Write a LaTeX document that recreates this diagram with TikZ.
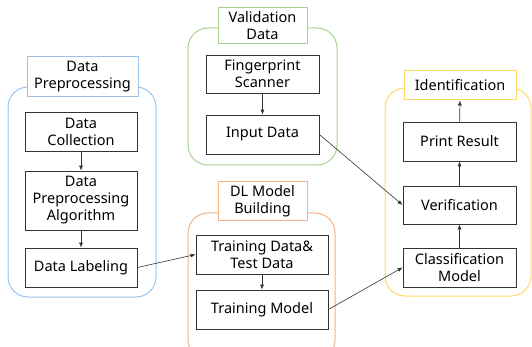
\documentclass[tikz,border=0pt]{standalone}
\usepackage{fontspec}
\usetikzlibrary{arrows.meta}
\setmainfont{Noto Sans}
\definecolor{gblue}{RGB}{155,194,230}
\definecolor{ggreen}{RGB}{169,209,142}
\definecolor{gorange}{RGB}{244,177,131}
\definecolor{gyellow}{RGB}{255,217,102}
\begin{document}
\begin{tikzpicture}[x=1pt,y=-1pt,
  grp/.style={draw=#1, line width=1pt, rounded corners=20pt},
  ttl/.style={draw=#1, line width=1pt, fill=white, align=center, inner sep=0pt, font=\fontsize{14.5}{17}\selectfont},
  bx/.style={draw=black!80, line width=0.8pt, fill=white, align=center, inner sep=0pt, font=\fontsize{14.5}{17}\selectfont},
  arr/.style={-{Latex[length=5pt,width=4pt]}, line width=0.6pt, black!80}]
\useasboundingbox (0,0) rectangle (532,347);
\begin{scope}
\clip (0,0) rectangle (532,347);
% groups
\draw[grp=gblue] (8,87) rectangle (156,297);
\draw[grp=ggreen] (188,28) rectangle (337,165);
\draw[grp=gorange] (188,213) rectangle (335,360);
\draw[grp=gyellow] (385,88) rectangle (531,296);
\end{scope}
% titles
\node[ttl=gblue, minimum width=111pt, minimum height=40pt] (tdp) at (82.5,77) {Data\\Preprocessing};
\node[ttl=ggreen, minimum width=89pt, minimum height=36pt] (tvd) at (262.5,26) {Validation\\Data};
\node[ttl=gorange, minimum width=89pt, minimum height=39pt] (tdl) at (262.5,201.5) {DL Model\\Building};
\node[ttl=gyellow, minimum width=112pt, minimum height=29pt] (tid) at (460,85.5) {Identification};
% boxes
\node[bx, minimum width=112pt, minimum height=39pt] (dc) at (81,131.5) {Data\\Collection};
\node[bx, minimum width=112pt, minimum height=59pt] (dpa) at (81,200.5) {Data\\Preprocessing\\Algorithm};
\node[bx, minimum width=112pt, minimum height=39pt] (dlab) at (81,267.5) {Data Labeling};
\node[bx, minimum width=113pt, minimum height=38pt] (fs) at (262.5,74) {Fingerprint\\Scanner};
\node[bx, minimum width=113pt, minimum height=39pt] (ind) at (262.5,134.5) {Input Data};
\node[bx, minimum width=132pt, minimum height=39pt] (tdt) at (262,254.5) {Training Data\&\\Test Data};
\node[bx, minimum width=132pt, minimum height=39pt] (tm) at (262,309.5) {Training Model};
\node[bx, minimum width=113pt, minimum height=39pt] (pr) at (459.5,141.5) {Print Result};
\node[bx, minimum width=113pt, minimum height=38pt] (ver) at (459.5,205) {Verification};
\node[bx, minimum width=113pt, minimum height=39pt] (cm) at (459.5,267.5) {Classification\\Model};
% arrows
\draw[arr] (dc) -- (dpa);
\draw[arr] (dpa) -- (dlab);
\draw[arr] (fs) -- (ind);
\draw[arr] (tdt) -- (tm);
\draw[arr] (cm) -- (ver);
\draw[arr] (ver) -- (pr);
\draw[arr] (pr) -- (tid);
\draw[arr] (dlab.east) -- (tdt.west);
\draw[arr] (ind.east) -- (ver.west);
\draw[arr] (tm.east) -- (cm.west);
\end{tikzpicture}
\end{document}
